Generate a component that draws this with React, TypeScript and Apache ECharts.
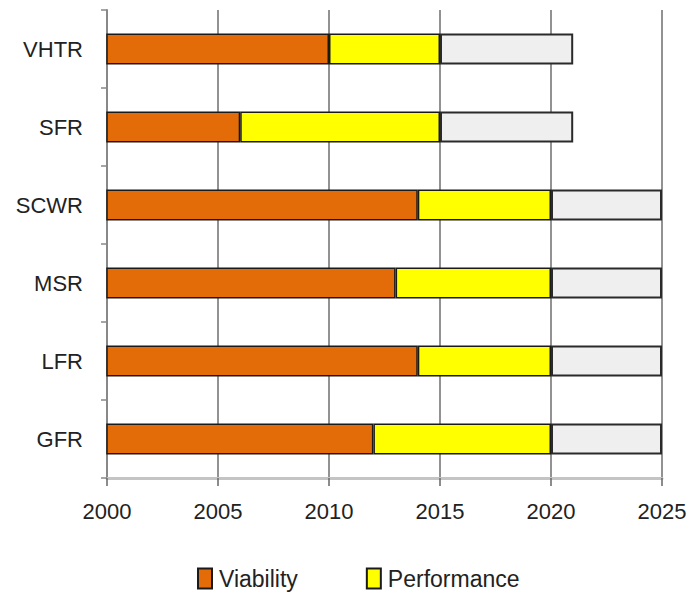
import React, { useEffect, useRef } from "react";
import * as echarts from "echarts";

const categories = ["VHTR", "SFR", "SCWR", "MSR", "LFR", "GFR"];
const viabilityEnd = [2010, 2006, 2014, 2013, 2014, 2012];
const performanceEnd = [2015, 2015, 2020, 2020, 2020, 2020];
const demonstrationEnd = [2021, 2021, 2025, 2025, 2025, 2025];
const xTicks = [2000, 2005, 2010, 2015, 2020, 2025];

export default function App() {
  const ref = useRef<HTMLDivElement>(null);
  useEffect(() => {
    if (!ref.current) return;
    const chart = echarts.init(ref.current, null, { renderer: "svg" });
    const font = "Liberation Sans, Arial, sans-serif";
    const perf = performanceEnd.map((v, i) => v - viabilityEnd[i]);
    const demo = demonstrationEnd.map((v, i) => v - performanceEnd[i]);
    chart.setOption({
      animation: false,
      backgroundColor: "#ffffff",
      grid: { left: 107, right: 30, top: 10, bottom: 114, containLabel: false },
      xAxis: {
        type: "value",
        min: xTicks[0],
        max: xTicks[xTicks.length - 1],
        interval: 5,
        axisLine: { show: true, lineStyle: { color: "#c4c4c4", width: 3 } },
        axisTick: { show: true, length: 8, lineStyle: { color: "#666", width: 1.5 } },
        axisLabel: {
          color: "#222",
          fontSize: 22,
          fontFamily: font,
          margin: 22,
          formatter: (v: number) => String(v),
        },
        splitLine: { show: true, lineStyle: { color: "#6e6e6e", width: 1.5 } },
      },
      yAxis: {
        type: "category",
        data: categories,
        inverse: true,
        axisLine: { show: true, lineStyle: { color: "#888", width: 2 } },
        axisTick: { show: true, length: 6, lineStyle: { color: "#888", width: 1.5 } },
        axisLabel: { color: "#222", fontSize: 22, fontFamily: font, margin: 24 },
        splitLine: { show: false },
      },
      legend: {
        data: ["Viability", "Performance"],
        left: 192,
        top: 562,
        icon: "rect",
        itemWidth: 14,
        itemHeight: 20,
        itemGap: 68,
        textStyle: { color: "#222", fontSize: 23, fontFamily: font, padding: [0, 0, 0, 2] },
      },
      series: [
        {
          name: "Viability",
          type: "bar",
          stack: "t",
          barWidth: 31,
          data: viabilityEnd,
          itemStyle: { color: "#e36c09", borderColor: "#1a1a1a", borderWidth: 1.5 },
        },
        {
          name: "Performance",
          type: "bar",
          stack: "t",
          barWidth: 31,
          data: perf,
          itemStyle: { color: "#ffff00", borderColor: "#1a1a1a", borderWidth: 1.5 },
        },
        {
          name: "Demonstration",
          type: "bar",
          stack: "t",
          barWidth: 31,
          data: demo,
          itemStyle: { color: "#efefef", borderColor: "#2a2a2a", borderWidth: 2 },
        },
      ],
    });
    return () => chart.dispose();
  }, []);
  return (
    <div
      ref={ref}
      style={{ position: "fixed", left: 0, top: 0, width: 692, height: 592 }}
    />
  );
}
